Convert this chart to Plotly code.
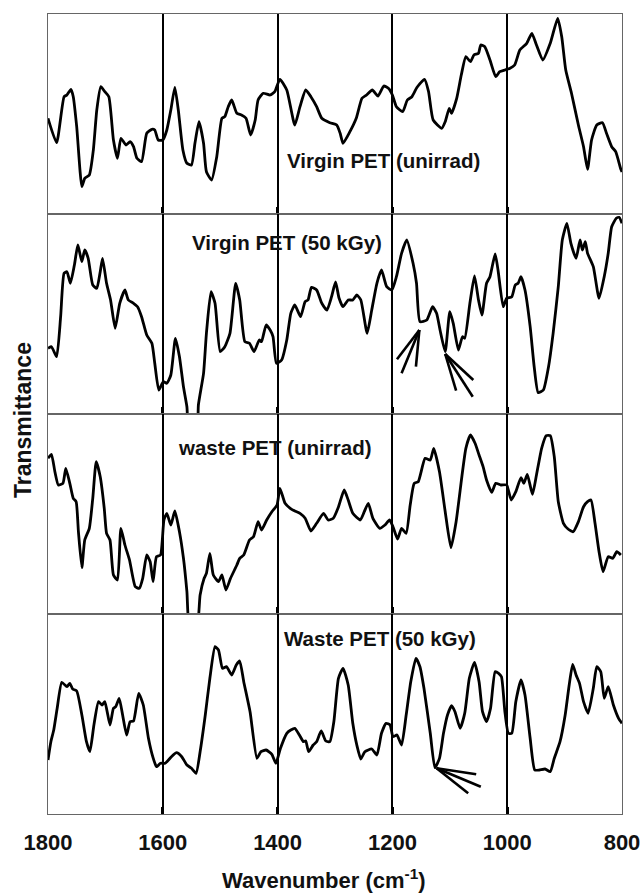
import plotly.graph_objects as go
from plotly.subplots import make_subplots

# ---------------- data (wavenumber cm^-1, transmittance in arbitrary units 0-200 per panel) -------------
wn_virgin_unirr = [1800, 1785, 1772, 1767, 1760, 1756, 1750, 1741, 1736, 1728, 1721, 1715, 1708, 1701, 1694,
                   1686, 1679, 1673, 1664, 1657, 1651, 1645, 1637, 1628, 1619, 1614, 1608, 1600, 1593, 1586,
                   1579, 1573, 1565, 1558, 1550, 1544, 1537, 1529, 1524, 1515, 1506, 1497, 1492, 1486, 1480,
                   1471, 1463, 1455, 1447, 1439, 1434, 1425, 1413, 1405, 1396, 1384, 1370, 1361, 1351, 1342,
                   1332, 1323, 1309, 1297, 1291, 1286, 1274, 1263, 1253, 1245, 1235, 1225, 1215, 1207, 1200,
                   1193, 1182, 1174, 1166, 1157, 1144, 1137, 1129, 1114, 1108, 1101, 1097, 1088, 1080, 1072,
                   1064, 1058, 1050, 1046, 1039, 1030, 1020, 1013, 1004, 995, 987, 978, 966, 957, 949, 938,
                   925, 912, 905, 898, 888, 876, 867, 860, 853, 844, 834, 827, 818, 811, 802, 800]
t_virgin_unirr = [95.7, 71.3, 117.3, 119, 124.7, 117.3, 87.3, 27.3, 35.7, 39, 64, 104, 127.3, 122.3, 117.3,
                  74, 55.7, 75.7, 69, 72.3, 67.3, 55.7, 52.3, 80.7, 84.7, 84, 74, 74, 84, 104,
                  126.7, 104, 64, 50.7, 49, 70.7, 92.3, 70.7, 42.3, 34, 57.3, 95.7, 97.3, 107.3, 114,
                  100.7, 99, 95.7, 79, 94, 114, 120.7, 119, 122.3, 134.7, 124, 89, 107.3, 124, 117.3,
                  107.3, 95.7, 91.3, 89, 80.7, 70.7, 82.3, 95.7, 115.7, 119, 124, 118, 128, 125.7, 119,
                  107.3, 102.3, 114, 117.3, 126.7, 134.7, 122.3, 94, 85.7, 92.3, 105.7, 100.7, 115.7, 139, 157.3,
                  152.3, 159, 160.7, 169, 167.3, 154, 137.3, 142.3, 144, 145.7, 149, 164, 170.7, 180.7, 169, 154,
                  170.7, 195.7, 177.3, 144, 120.7, 89, 67.3, 44.7, 74, 89, 91.3, 80.7, 67.3, 62.3, 44.7, 42]

wn_virgin_50 = [1800, 1794, 1785, 1778, 1772, 1767, 1761, 1754, 1748, 1741, 1736, 1730, 1722, 1715, 1709,
                1705, 1698, 1691, 1683, 1675, 1666, 1660, 1651, 1644, 1637, 1628, 1619, 1614, 1607, 1599,
                1593, 1586, 1578, 1571, 1564, 1558, 1554, 1541, 1538, 1529, 1524, 1516, 1509, 1500, 1492,
                1483, 1473, 1466, 1457, 1449, 1441, 1432, 1428, 1420, 1413, 1408, 1402, 1393, 1384, 1377,
                1370, 1360, 1352, 1347, 1341, 1332, 1323, 1314, 1306, 1299, 1293, 1286, 1277, 1269, 1262,
                1255, 1244, 1236, 1227, 1219, 1210, 1201, 1193, 1184, 1175, 1164, 1158, 1152, 1140, 1130,
                1123, 1117, 1108, 1100, 1094, 1085, 1078, 1074, 1065, 1057, 1050, 1044, 1036, 1030, 1021,
                1016, 1007, 1001, 992, 986, 981, 976, 969, 960, 953, 946, 937, 928, 920, 911, 904, 896,
                889, 880, 873, 869, 864, 860, 850, 840, 831, 824, 818, 810, 805, 800]
t_virgin_50 = [65.7, 67.3, 57.3, 97.3, 140.7, 142.3, 130.7, 149, 169, 152.3, 164, 155.7, 129, 125.7, 142.3,
               155.7, 130.7, 114, 85.7, 110.7, 124, 114, 110.7, 107.3, 97.3, 79, 70.7, 50.7, 24, 32.3,
               30.7, 39, 75.7, 57.3, 27.3, 7.3, -20, -20, 9, 40.7, 80.7, 122.3, 110.7, 62.3, 67.3,
               80.7, 130.7, 114, 72.3, 70.7, 62.3, 74, 72.3, 89, 84, 77.3, 50.7, 54, 74, 100.7,
               109, 97.3, 112.3, 114, 126.7, 124, 110.7, 104, 117.3, 132, 116, 107.3, 114, 114, 119,
               114, 80.7, 104, 130.7, 144, 127.3, 124, 137.3, 160.7, 174, 150.7, 130.7, 92.3, 94, 107.3,
               100.7, 84, 62.3, 102.3, 90.7, 64, 77.3, 75.7, 110.7, 138, 114, 99, 130.7, 137.3, 160,
               144, 107.3, 115.7, 117.3, 129, 130.7, 137.3, 124, 87.3, 47.3, 21.3, 24, 47.3, 80.7, 127.3, 174, 190.7,
               170.7, 155.7, 174, 164, 172.3, 160.7, 147.3, 115.7, 137.3, 160.7, 187.3, 195.7, 196.7, 190.7]

wn_waste_unirr = [1800, 1794, 1788, 1782, 1774, 1769, 1762, 1756, 1751, 1747, 1741, 1736, 1728, 1722, 1716,
                  1709, 1702, 1698, 1692, 1686, 1679, 1673, 1666, 1658, 1648, 1641, 1635, 1628, 1622, 1617,
                  1611, 1604, 1598, 1593, 1586, 1579, 1571, 1564, 1558, 1553, 1541, 1535, 1528, 1524, 1518,
                  1512, 1503, 1497, 1490, 1482, 1471, 1466, 1459, 1449, 1442, 1434, 1428, 1419, 1410, 1401,
                  1396, 1387, 1378, 1370, 1361, 1352, 1342, 1332, 1320, 1312, 1303, 1294, 1284, 1277, 1269,
                  1256, 1249, 1242, 1234, 1222, 1213, 1205, 1199, 1191, 1184, 1176, 1169, 1162, 1155, 1143,
                  1134, 1128, 1118, 1108, 1098, 1089, 1079, 1072, 1064, 1056, 1049, 1042, 1036, 1027, 1020,
                  1011, 1001, 993, 985, 976, 971, 965, 956, 949, 940, 932, 925, 918, 911, 902, 894, 885,
                  876, 867, 860, 854, 847, 840, 833, 824, 816, 809, 802]
t_waste_unirr = [155.7, 159.7, 142.3, 129, 130.7, 145.7, 130.7, 115.7, 112.3, 82.3, 46.3, 74, 85.7, 115.7, 152.3,
                 137.3, 105.7, 80.7, 74, 39, 34, 85.7, 69, 54, 27.3, 25.7, 35.7, 59, 52.3, 32.3,
                 57.3, 59, 94, 100.7, 89, 103, 82.3, 55.7, 22.3, -15, -15, 19, 35.7, 40.7, 60.7,
                 39, 32.3, 39, 24, 35.7, 49, 55.7, 59, 74, 77.3, 92.3, 84, 94, 102.3, 109,
                 125.7, 110.7, 105.7, 103, 100.7, 95.7, 83, 90.7, 100.7, 94, 95.7, 107, 124, 114, 100.7,
                 94, 102.3, 110.7, 95.7, 85.7, 89, 94, 87.3, 75, 85.7, 80.7, 109, 130.7, 132.3, 155.7,
                 154, 165.7, 142.3, 102.3, 66.3, 92.3, 137.3, 165.7, 179, 170.7, 159, 147.3, 134, 121.7, 130.7,
                 129, 129, 114, 122.3, 136.3, 130.7, 139.7, 119.7, 139, 165.7, 178.3, 178.3, 157.3, 112.3, 90.7, 85, 82.3,
                 92.3, 107.3, 112.3, 114, 90.7, 62.3, 42.3, 57.3, 55.7, 62.3, 59]

wn_waste_50 = [1800, 1795, 1790, 1784, 1776, 1767, 1762, 1757, 1750, 1741, 1733, 1727, 1720, 1712, 1706,
               1701, 1692, 1686, 1682, 1676, 1670, 1663, 1657, 1651, 1642, 1634, 1625, 1617, 1611, 1604,
               1596, 1585, 1576, 1567, 1558, 1550, 1542, 1535, 1526, 1518, 1509, 1503, 1496, 1489, 1480,
               1472, 1466, 1459, 1448, 1436, 1429, 1420, 1410, 1403, 1395, 1384, 1377, 1370, 1362, 1355,
               1351, 1346, 1338, 1332, 1324, 1316, 1309, 1302, 1294, 1286, 1277, 1269, 1262, 1255, 1248,
               1236, 1227, 1219, 1211, 1204, 1199, 1192, 1184, 1176, 1168, 1159, 1152, 1145, 1134, 1126,
               1118, 1111, 1104, 1097, 1091, 1082, 1074, 1066, 1057, 1049, 1043, 1036, 1029, 1021, 1015,
               1010, 1004, 998, 992, 985, 976, 969, 960, 952, 944, 934, 925, 918, 908, 899, 892, 886,
               880, 874, 867, 859, 850, 844, 837, 831, 824, 815, 806, 800]
t_waste_50 = [54, 72.3, 84, 105.7, 131.7, 127.3, 130.7, 125, 123, 99, 72.3, 62.3, 89, 112.3, 109,
              112.3, 89, 105.7, 107.3, 115.7, 99, 79, 92.3, 93, 120.7, 109, 75.7, 56.3, 47.3, 50.7,
              50.7, 57.3, 61.3, 57.3, 49, 45.7, 40.7, 62.3, 99, 135.7, 167.3, 164, 145.7, 147.3, 139,
              149, 153, 132.3, 102.3, 55.7, 62.3, 64, 59.7, 50.7, 65.7, 80.7, 84, 85.7, 79, 72.3,
              73, 62.3, 69, 72.3, 83, 73, 72.3, 92.3, 135.7, 145.7, 129, 90.7, 69, 55, 62.3,
              65, 59, 80.7, 90.7, 89, 77.3, 79, 69, 99, 132.3, 155.7, 147.3, 125.7, 80.7, 46.3,
              55.7, 80.7, 99, 108.3, 102.3, 85.7, 100.7, 135.7, 151.7, 132.3, 102.3, 92.3, 105.7, 142.3, 140.7,
              137.3, 102.3, 80.7, 80.7, 112.3, 134, 119, 75.7, 44, 44, 45, 42.3, 55.7, 72.3, 99, 129, 149.7,
              139, 130.7, 112.3, 100.7, 125.7, 147.3, 142.3, 115.7, 127.3, 109, 95.7, 90.7]

panel_labels = ["Virgin PET (unirrad)", "Virgin PET (50 kGy)", "waste PET (unirrad)", "Waste PET (50 kGy)"]
label_pos_wn = [1215, 1384, 1405, 1222]
label_pos_t = [54, 172, 167, 176]

# arrows: (panel row, tip wn, tip t, list of tail (wn, t))
arrow_rows = [2, 2, 4]
arrow_tips = [(1153, 84), (1108, 60), (1123, 45.7)]
arrow_tails = [[(1192, 54.7), (1184, 40.7), (1159, 47.3)],
               [(1059, 34), (1060, 17.3), (1089, 23.3)],
               [(1054, 39.7), (1046, 27.3), (1068, 20.7)]]

x_ticks = [1800, 1600, 1400, 1200, 1000, 800]

series = [(wn_virgin_unirr, t_virgin_unirr), (wn_virgin_50, t_virgin_50),
          (wn_waste_unirr, t_waste_unirr), (wn_waste_50, t_waste_50)]

# ---------------- figure ----------------
fig = make_subplots(rows=4, cols=1, shared_xaxes=True, vertical_spacing=0)

FONT = "Liberation Sans, Arial, sans-serif"
for i, (xs, ys) in enumerate(series, start=1):
    fig.add_trace(go.Scatter(x=xs, y=ys, mode="lines",
                             line=dict(color="black", width=2.8, shape="spline", smoothing=0.5),
                             showlegend=False, hoverinfo="skip"), row=i, col=1)
    fig.update_xaxes(row=i, col=1, range=[1800, 800], tickvals=x_ticks,
                     ticktext=["<b>%d</b>" % v for v in x_ticks],
                     showgrid=True, gridcolor="black", gridwidth=1.5,
                     showline=True, mirror=True, linecolor="#666", linewidth=1.2,
                     ticks="inside", ticklen=7, tickwidth=3, tickcolor="black",
                     zeroline=False, showticklabels=(i == 4), ticklabelstandoff=8,
                     automargin=False,
                     tickfont=dict(family=FONT, size=22, color="#111"))
    fig.update_yaxes(row=i, col=1, range=[0, 200], showgrid=False, showticklabels=False,
                     ticks="", showline=True, mirror=True, linecolor="#666", linewidth=1.2,
                     zeroline=False, automargin=False)
    fig.add_annotation(text="<b>" + panel_labels[i - 1] + "</b>", x=label_pos_wn[i - 1], y=label_pos_t[i - 1],
                       xref=f"x{i}" if i > 1 else "x", yref=f"y{i}" if i > 1 else "y",
                       showarrow=False, font=dict(family=FONT, size=20.5, color="#111"))

for row, tip, tails in zip(arrow_rows, arrow_tips, arrow_tails):
    for tw, tt in tails:
        fig.add_shape(type="line", x0=tip[0], y0=tip[1], x1=tw, y1=tt,
                      xref=f"x{row}", yref=f"y{row}", line=dict(color="black", width=2.6))

fig.add_annotation(text="<b>Wavenumber (cm<sup>-1</sup>)</b>", xref="paper", yref="paper",
                   x=(324 - 48) / 574, y=-(895 - 814) / 800, showarrow=False, yanchor="bottom",
                   font=dict(family=FONT, size=22, color="#111"))
fig.add_annotation(text="<b>Transmittance</b>", xref="paper", yref="paper",
                   x=-(48 - 23) / 574, y=0.5 - (420 - 414) / 800, showarrow=False, textangle=-90,
                   xanchor="center", yanchor="middle",
                   font=dict(family=FONT, size=23, color="#111"))

fig.update_layout(width=642, height=895, margin=dict(l=48, r=20, t=14, b=81),
                  plot_bgcolor="white", paper_bgcolor="white")

fig.write_html("out.html")
